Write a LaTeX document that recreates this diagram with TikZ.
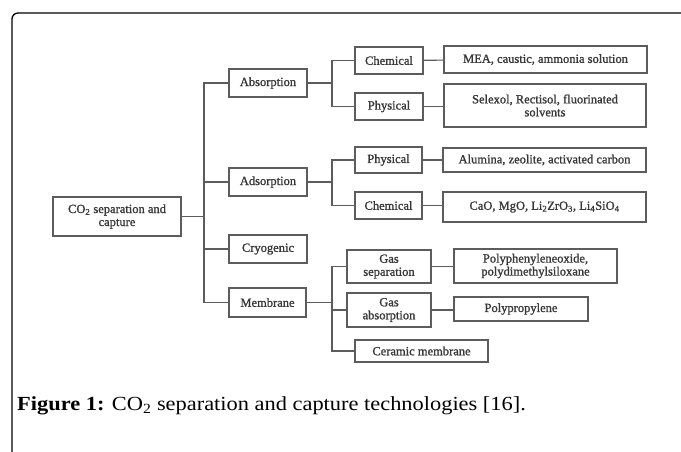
\documentclass[tikz,border=0pt]{standalone}
\usepackage{fontspec}
\setmainfont{Liberation Serif}
\newfontfamily\boxfont[FakeBold=1.2]{Liberation Serif}
\newfontfamily\capfont[FakeStretch=1.12]{Liberation Serif}
\begin{document}
\begin{tikzpicture}[x=1pt,y=-1pt,
  bx/.style={draw=boxgray, line width=1.1pt, inner sep=1pt, align=center, text=txtgray,
    font=\boxfont\fontsize{12.5}{13}\selectfont},
  ln/.style={draw=boxgray, line width=1.1pt}]
\definecolor{boxgray}{HTML}{5C5C5C}
\definecolor{txtgray}{HTML}{383838}
\useasboundingbox (0,0) rectangle (681,451);
\fill[white] (0,0) rectangle (681,451);
\draw[line width=1.3pt, rounded corners=6pt] (12,460) -- (12,13) -- (690,13);
% level 0
\node[bx, minimum width=128, minimum height=39] (root) at (117,216.5) {CO\textsubscript{2} separation and\\capture};
% level 1
\node[bx, minimum width=78, minimum height=28] (abs) at (268,83) {Absorption};
\node[bx, minimum width=78, minimum height=28] (ads) at (268,182) {Adsorption};
\node[bx, minimum width=78, minimum height=28] (cryo) at (268,249) {Cryogenic};
\node[bx, minimum width=77, minimum height=29] (mem) at (267.5,302.5) {Membrane};
% level 2
\node[bx, minimum width=68, minimum height=27] (ch1) at (389,60.5) {Chemical};
\node[bx, minimum width=68, minimum height=27] (ph1) at (389,106.5) {Physical};
\node[bx, minimum width=67, minimum height=26] (ph2) at (388.5,160) {Physical};
\node[bx, minimum width=67, minimum height=27] (ch2) at (388.5,205.5) {Chemical};
\node[bx, minimum width=84, minimum height=33] (gs) at (389,266.5) {Gas\\separation};
\node[bx, minimum width=84, minimum height=34] (ga) at (389,310) {Gas\\absorption};
\node[bx, minimum width=133, minimum height=22] (cer) at (421.5,351) {Ceramic membrane};
% level 3
\node[bx, minimum width=203, minimum height=27] (mea) at (545.5,59.5) {MEA, caustic, ammonia solution};
\node[bx, minimum width=202, minimum height=43] (sel) at (545,105.5) {Selexol, Rectisol, fluorinated\\solvents};
\node[bx, minimum width=203, minimum height=24] (alu) at (544.5,160) {Alumina, zeolite, activated carbon};
\node[bx, minimum width=203, minimum height=30] (cao) at (544.5,207) {CaO, MgO, Li\textsubscript{2}ZrO\textsubscript{3}, Li\textsubscript{4}SiO\textsubscript{4}};
\node[bx, minimum width=163, minimum height=34] (ppo) at (535.5,266) {Polyphenyleneoxide,\\polydimethylsiloxane};
\node[bx, minimum width=134, minimum height=24] (pp) at (521,309) {Polypropylene};
% connectors level 0 -> 1
\coordinate (t0) at (204,216.5);
\draw[ln] (root.east) -- (t0);
\draw[ln] (t0) |- (abs.west);
\draw[ln] (t0) |- (ads.west);
\draw[ln] (t0) |- (cryo.west);
\draw[ln] (t0) |- (mem.west);
% absorption
\coordinate (t1) at (332,83);
\draw[ln] (abs.east) -- (t1);
\draw[ln] (t1) |- (ch1.west);
\draw[ln] (t1) |- (ph1.west);
% adsorption
\coordinate (t2) at (332,182);
\draw[ln] (ads.east) -- (t2);
\draw[ln] (t2) |- (ph2.west);
\draw[ln] (t2) |- (ch2.west);
% membrane
\coordinate (t3) at (332,302.5);
\draw[ln] (mem.east) -- (t3);
\draw[ln] (t3) |- (gs.west);
\draw[ln] (t3) |- (ga.west);
\draw[ln] (t3) |- (cer.west);
% level 2 -> 3
\draw[ln] (ch1) -- (mea);
\draw[ln] (ph1.east) -- (ph1.east -| sel.west);
\draw[ln] (ph2.east) -- (ph2.east -| alu.west);
\draw[ln] (ch2.east) -- (ch2.east -| cao.west);
\draw[ln] (gs.east) -- (gs.east -| ppo.west);
\draw[ln] (ga.east) -- (ga.east -| pp.west);
% caption
\node[anchor=base west, inner sep=0pt, font=\capfont\fontsize{20}{20}\selectfont] (cap) at (17,410)
  {\textbf{Figure 1:} CO\textsubscript{2} separation and capture technologies [16].};
\end{tikzpicture}
\end{document}
